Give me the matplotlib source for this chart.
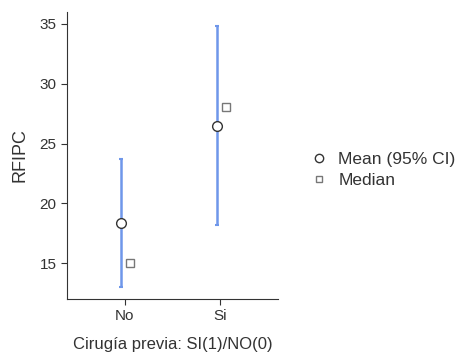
import matplotlib
matplotlib.use("Agg")
import matplotlib.pyplot as plt
from matplotlib.lines import Line2D

plt.rcParams['font.family'] = ['Liberation Sans', 'DejaVu Sans']

groups = ["No", "Si"]
means = [18.33, 26.5]
ci_low = [13.0, 18.17]
ci_high = [23.67, 34.83]
medians = [15.0, 28.08]

fig = plt.figure(figsize=(4.69, 3.61), dpi=100)
ax = fig.add_axes([67 / 469, 62 / 361, 211 / 469, 287 / 361])

xs = list(range(len(groups)))
err = [[m - lo for m, lo in zip(means, ci_low)], [hi - m for m, hi in zip(means, ci_high)]]
ax.errorbar([x - 0.04 for x in xs], means, yerr=err, fmt='none', ecolor='#6f97ea',
            elinewidth=1.8, capsize=1.5, capthick=1.5, zorder=2)
ax.plot([x - 0.04 for x in xs], means, 'o', ms=7, mfc='white', mec='#333333', mew=1, zorder=3)
ax.plot([x + 0.06 for x in xs], medians, 's', ms=6, mfc='white', mec='#777777', mew=1, zorder=3)

ax.set_xlim(-0.6, 1.6)
ax.set_ylim(12, 36)
ax.set_xticks(xs)
ax.set_xticklabels(groups)
ax.set_yticks([15, 20, 25, 30, 35])
ax.tick_params(labelsize=11, colors='#333333', length=4)
ax.spines['top'].set_visible(False)
ax.spines['right'].set_visible(False)
ax.spines['left'].set_color('#333333')
ax.spines['bottom'].set_color('#333333')
ax.set_ylabel("RFIPC", fontsize=13, color='#333333', labelpad=8)
ax.set_xlabel("Cirugía previa: SI(1)/NO(0)", fontsize=12, color='#333333', labelpad=10)

handles = [Line2D([], [], ls='none', marker='o', ms=6, mfc='white', mec='#333333'),
           Line2D([], [], ls='none', marker='s', ms=5, mfc='white', mec='#777777')]
fig.legend(handles, ["Mean (95% CI)", "Median"], loc='center left',
           bbox_to_anchor=(295 / 469, 1 - 170 / 361), frameon=False, fontsize=12.5,
           handlelength=1, handletextpad=0.6, labelspacing=0.3, labelcolor='#333333')

fig.savefig("out.png", dpi=100)
